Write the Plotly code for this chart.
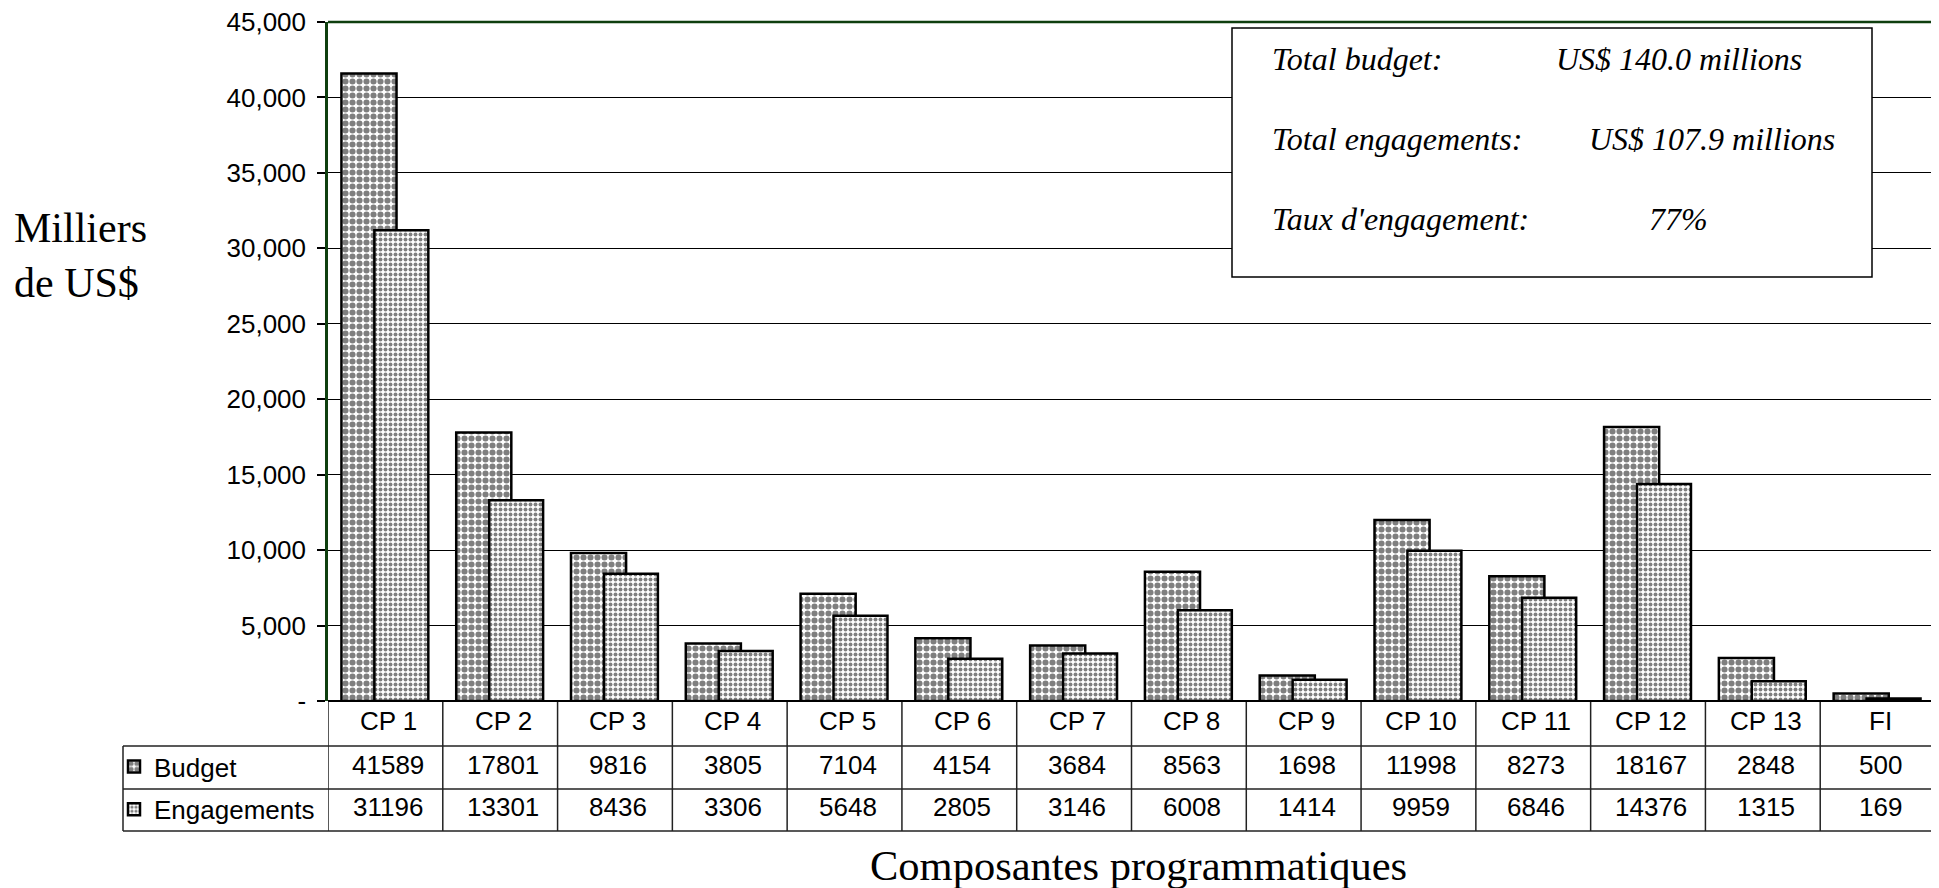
import plotly.graph_objects as go

categories = ["CP 1", "CP 2", "CP 3", "CP 4", "CP 5", "CP 6", "CP 7", "CP 8",
              "CP 9", "CP 10", "CP 11", "CP 12", "CP 13", "FI"]
budget = [41589, 17801, 9816, 3805, 7104, 4154, 3684, 8563, 1698, 11998, 8273, 18167, 2848, 500]
engagements = [31196, 13301, 8436, 3306, 5648, 2805, 3146, 6008, 1414, 9959, 6846, 14376, 1315, 169]
tick_vals = [0, 5000, 10000, 15000, 20000, 25000, 30000, 35000, 40000, 45000]
tick_text = ["-", "5,000", "10,000", "15,000", "20,000", "25,000", "30,000", "35,000", "40,000", "45,000"]
series_names = ["Budget", "Engagements"]
info_labels = ["Total budget:", "Total engagements:", "Taux d'engagement:"]
info_values = ["US$ 140.0 millions", "US$ 107.9 millions", "77%"]

# page body has an 8px margin: figure is drawn 8px in from the window corner
OFF = 8
W, H = 1939 - OFF, 888 - OFF
L, R, T, B = 328, 1935, 22, 701          # plot area in window pixels
PW, PH = R - L, B - T


def px_x(px):
    return (px - L) / PW


def px_y(py):
    return (B - py) / PH


SANS = "Arial, Liberation Sans, sans-serif"
SERIF = "Times New Roman, Liberation Serif, serif"
GREEN = "#0f3f0f"
FS = 26

x_idx = list(range(len(categories)))

fig = go.Figure()
fig.add_trace(go.Bar(
    x=x_idx, y=budget, name=series_names[0], legendgroup="b",
    width=0.48, offset=-0.383,
    marker=dict(color="white", line=dict(color="black", width=2.5),
                pattern=dict(shape=".", fgcolor="black", bgcolor="white", size=7, solidity=0.6)),
))
fig.add_trace(go.Bar(
    x=x_idx, y=engagements, name=series_names[1], legendgroup="e",
    width=0.47, offset=-0.096,
    marker=dict(color="white", line=dict(color="black", width=2.5),
                pattern=dict(shape=".", fgcolor="black", bgcolor="white", size=5, solidity=0.5)),
))

shapes = []
line_col = "#222222"
for py in [746, 789, 831]:
    shapes.append(dict(type="line", xref="paper", yref="paper", x0=px_x(123), x1=px_x(1936),
                       y0=px_y(py), y1=px_y(py), line=dict(color=line_col, width=1.5)))
for i in range(len(categories) + 1):
    shapes.append(dict(type="line", xref="x", yref="paper", x0=i - 0.5, x1=i - 0.5,
                       y0=0, y1=px_y(831), line=dict(color=line_col, width=1.5)))
shapes.append(dict(type="line", xref="paper", yref="paper", x0=px_x(123), x1=px_x(123),
                   y0=px_y(746), y1=px_y(831), line=dict(color=line_col, width=1.5)))
shapes.append(dict(type="line", xref="paper", yref="paper", x0=0, x1=1, y0=1, y1=1,
                   line=dict(color=GREEN, width=2.5)))
shapes.append(dict(type="line", xref="paper", yref="paper", x0=0, x1=1, y0=0, y1=0,
                   line=dict(color="black", width=2)))
shapes.append(dict(type="rect", xref="paper", yref="paper", x0=px_x(1232), x1=px_x(1872),
                   y0=px_y(277), y1=px_y(28), line=dict(color="black", width=1.5),
                   fillcolor="white", layer="above"))

annotations = []
row_cat, row_b, row_e = px_y(721), px_y(765), px_y(807)
for i, c in enumerate(categories):
    for txt, ry in [(c, row_cat), (str(budget[i]), row_b), (str(engagements[i]), row_e)]:
        annotations.append(dict(x=i, y=ry, xref="x", yref="paper", text=txt, showarrow=False,
                                xshift=3,
                                font=dict(family=SANS, size=FS, color="black"), yanchor="middle"))

annotations.append(dict(x=px_x(1138), y=px_y(865), xref="paper", yref="paper",
                        text="Composantes programmatiques", showarrow=False,
                        font=dict(family=SERIF, size=42.5, color="black"),
                        xanchor="center", yanchor="middle"))
annotations.append(dict(x=px_x(12), y=px_y(255), xref="paper", yref="paper",
                        text="Milliers<br>de US$", showarrow=False, align="left",
                        font=dict(family=SERIF, size=42, color="black"),
                        xanchor="left", yanchor="middle"))

info_y = [59, 139, 219]
for k in range(3):
    annotations.append(dict(x=px_x(1270), y=px_y(info_y[k]), xref="paper", yref="paper",
                            text="<i>" + info_labels[k] + "</i>", showarrow=False,
                            font=dict(family=SERIF, size=32, color="black"),
                            xanchor="left", yanchor="middle"))
val_pos = [(1554, "left"), (1587, "left"), (1678, "center")]
for k in range(3):
    annotations.append(dict(x=px_x(val_pos[k][0]), y=px_y(info_y[k]), xref="paper", yref="paper",
                            text="<i>" + info_values[k] + "</i>", showarrow=False,
                            font=dict(family=SERIF, size=32, color="black"),
                            xanchor=val_pos[k][1], yanchor="middle"))

fig.update_layout(
    width=W, height=H,
    margin=dict(l=L - OFF, r=(1939 - OFF) - (R - OFF), t=T - OFF, b=H - (B - OFF), pad=0,
                autoexpand=False),
    paper_bgcolor="white", plot_bgcolor="white",
    barmode="overlay",
    showlegend=True,
    legend=dict(x=px_x(114), y=px_y(743), xanchor="left", yanchor="top",
                font=dict(family=SANS, size=FS, color="black"),
                traceorder="grouped", tracegroupgap=6, bgcolor="rgba(0,0,0,0)",
                itemwidth=30),
    xaxis=dict(range=[-0.5, len(categories) - 0.5], showticklabels=False, ticks="",
               showgrid=False, zeroline=False, showline=False, fixedrange=True,
               automargin=False),
    yaxis=dict(range=[0, 45000], tickvals=tick_vals, ticktext=tick_text,
               tickfont=dict(family=SANS, size=FS, color="black"),
               ticks="outside", ticklen=8, tickcolor="black", tickwidth=1.5,
               ticklabelstandoff=6, ticklabeloverflow="allow", automargin=False,
               showgrid=True, gridcolor="black", gridwidth=1,
               zeroline=False, showline=True, linecolor=GREEN, linewidth=2.5, mirror=True),
    shapes=shapes,
    annotations=annotations,
)

fig.write_html("out.html")
